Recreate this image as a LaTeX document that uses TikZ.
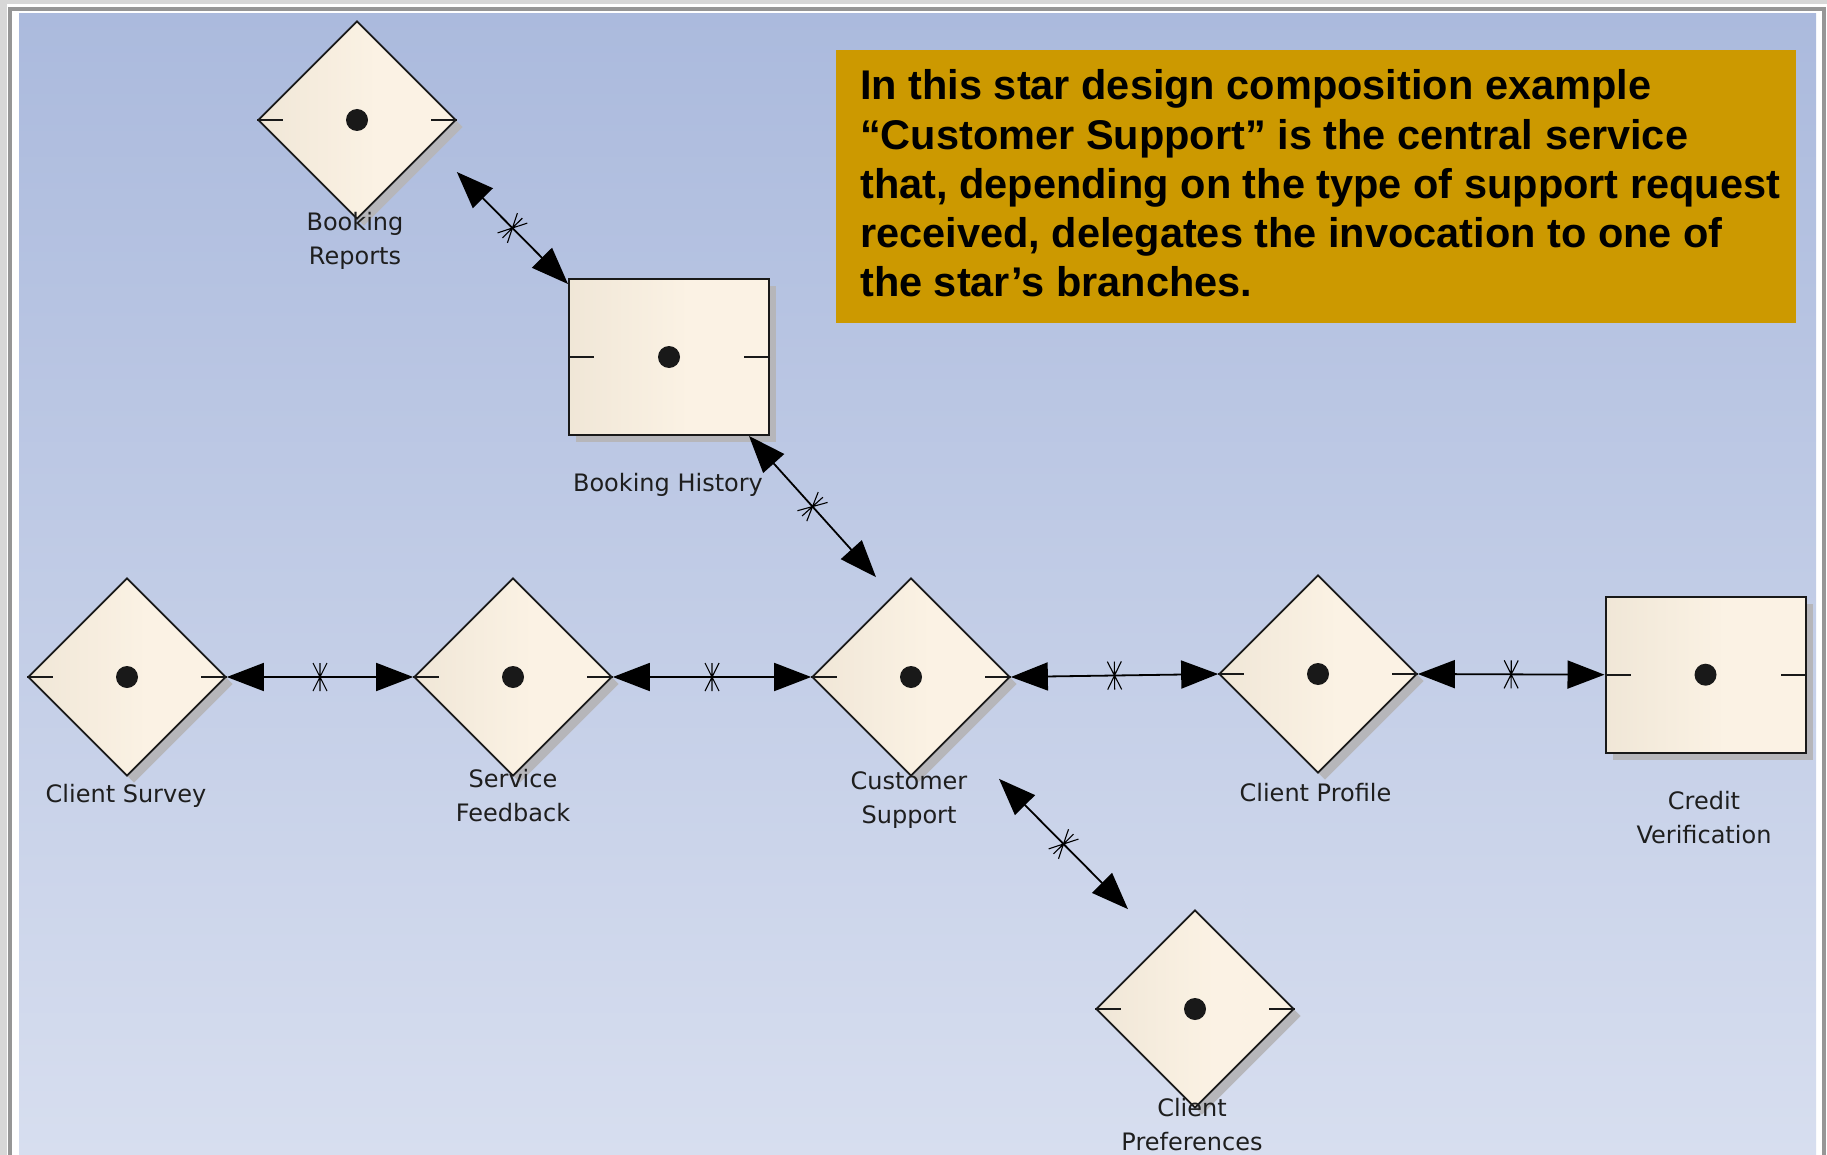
\documentclass[tikz,border=0pt]{standalone}
\usepackage{fontspec}
\setmainfont{DejaVu Sans}
\newfontfamily\notefont{Liberation Sans}
\usetikzlibrary{shapes.geometric,arrows.meta,shadows,decorations.markings,calc}
\definecolor{bgtop}{RGB}{171,186,221}
\definecolor{bgbot}{RGB}{215,222,239}
\definecolor{tanL}{RGB}{231,221,204}
\definecolor{tanR}{RGB}{251,242,228}
\definecolor{gold}{RGB}{204,153,0}
\definecolor{edge}{RGB}{25,25,25}
\definecolor{shadowc}{RGB}{182,182,186}
\definecolor{framegray}{RGB}{150,150,150}
\definecolor{framelight}{RGB}{215,215,215}
\definecolor{labelc}{RGB}{30,30,30}
\pgfdeclarehorizontalshading{svcfill}{100bp}{color(0bp)=(tanL); color(55bp)=(tanR); color(100bp)=(tanR)}
\newcommand\svcmarks[1]{%
  \fill[edge] (#1.center) circle (11pt);
  \draw[port] (#1.west) -- ++(26,0);
  \draw[port] (#1.east) -- ++(-26,0);}
\tikzset{
  svcd/.style={diamond, draw=edge, line width=1.7pt, shading=svcfill,
    minimum width=198pt, minimum height=198pt, inner sep=0pt,
    drop shadow={shadow xshift=7pt, shadow yshift=-7pt, fill=shadowc, opacity=1}},
  svcr/.style={rectangle, draw=edge, line width=2pt, shading=svcfill,
    minimum width=200pt, minimum height=156pt, inner sep=0pt,
    drop shadow={shadow xshift=7pt, shadow yshift=-7pt, fill=shadowc, opacity=1}},
  lbl/.style={font=\fontsize{24}{34}\selectfont, text=labelc, align=center, inner sep=0pt, anchor=base},
  port/.style={line width=1.7pt, draw=edge},
  link/.style={line width=1.8pt, draw=black,
    {Triangle[length=37pt,width=28pt]}-{Triangle[length=37pt,width=28pt]},
    postaction={decorate},
    decoration={markings, mark=at position 0.5 with {
      \draw[-, line width=1.1pt, black] (-7pt,-14pt)--(7pt,14pt) (7pt,-14pt)--(-7pt,14pt) (0pt,-14pt)--(0pt,14pt);}}},
}
\begin{document}
\begin{tikzpicture}[x=1pt,y=-1pt]
\useasboundingbox (0,0) rectangle (1827,1155);
% frame and background
\fill[white] (0,0) rectangle (1827,1155);
\fill[framelight] (0,0) rectangle (7,1155);
\fill[framelight] (0,0) rectangle (1827,4);
\draw[framegray, line width=4pt] (9.5,1155) -- (9.5,9) -- (1823.5,9) -- (1823.5,1155);
\shade[top color=bgtop, bottom color=bgbot] (19,14) rectangle (1816,1155);

% note
\fill[gold] (836,50) rectangle (1796,323);
\node[anchor=base west, align=left, inner sep=0pt, text=black,
  font=\fontsize{41.5}{49.3}\selectfont\notefont\bfseries] (note) at (860,297)
  {In this star design composition example\\
   “Customer Support” is the central service\\
   that, depending on the type of support request\\
   received, delegates the invocation to one of\\
   the star’s branches.};

% services
\node[svcd] (br) at (357,120) {};
\node[svcr] (bh) at (669,357) {};
\node[svcd] (csv) at (127,677) {};
\node[svcd] (sf) at (513,677) {};
\node[svcd] (cs) at (911,677) {};
\node[svcd] (cp) at (1318,674) {};
\node[svcr] (cv) at (1705.5,674.7) {};
\node[svcd] (cpr) at (1195,1009) {};
\svcmarks{br}
\svcmarks{bh}
\svcmarks{csv}
\svcmarks{sf}
\svcmarks{cs}
\svcmarks{cp}
\svcmarks{cv}
\svcmarks{cpr}

% labels (base anchor = baseline of last line)
\node[lbl] (lbr) at (355,265) {Booking\\Reports};
\node[lbl] (lbh) at (668,491) {Booking History};
\node[lbl] (lcsv) at (126,802) {Client Survey};
\node[lbl] (lsf) at (513,821) {Service\\Feedback};
\node[lbl] (lcs) at (909,823) {Customer\\Support};
\node[lbl] (lcp) at (1315.5,801) {Client Profile};
\node[lbl] (lcv) at (1704,843) {Credit\\Verification};
\node[lbl] (lcpr) at (1192,1150) {Client\\Preferences};

% connectors
\draw[link] ($(br.east)+(0,52)$) -- ($(bh.north west)+(0,6)$);
\draw[link] ($(bh.south east)+(-21,0)$) -- ($(cs.north)+(-35,0)$);
\draw[link] (csv.east) -- (sf.west);
\draw[link] (sf.east) -- (cs.west);
\draw[link] (cs.east) -- (cp.west);
\draw[link] (cp.east) -- (cv.west);
\draw[link] ($(cs.south)+(88,2)$) -- ($(cpr.north)+(-67,0)$);
\end{tikzpicture}
\end{document}
